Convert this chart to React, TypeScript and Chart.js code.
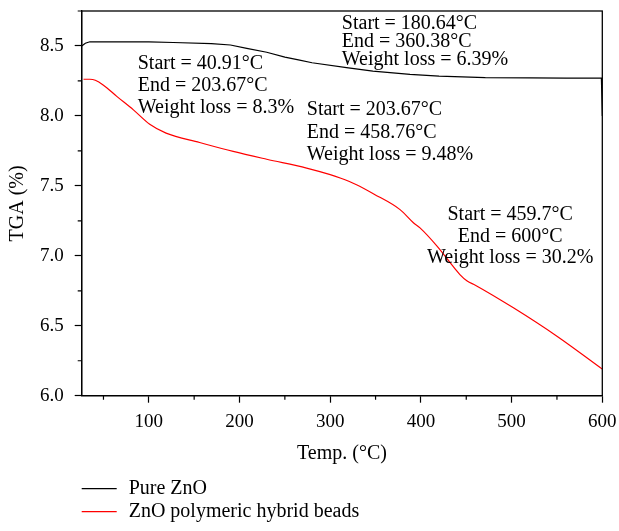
import React, { useEffect, useRef } from "react";
import { Chart, registerables } from "chart.js";

Chart.register(...registerables);

// ---- Data ----
const pureTemp = [26, 30, 35, 60, 100, 127, 169, 190, 208, 230, 250, 265, 280, 318, 347, 388, 420, 471, 520, 560, 599, 600];
const pureTga = [8.5, 8.52, 8.53, 8.53, 8.53, 8.525, 8.517, 8.507, 8.483, 8.455, 8.42, 8.4, 8.38, 8.345, 8.32, 8.297, 8.285, 8.274, 8.272, 8.27, 8.27, 8.0];

const beadsTemp = [28, 35, 41, 50, 65, 83, 101, 119, 156, 193, 230, 274, 300, 311, 329, 348, 377, 392, 399, 418, 443, 451, 460, 502, 550, 600];
const beadsTga = [8.262, 8.262, 8.255, 8.22, 8.138, 8.043, 7.94, 7.877, 7.81, 7.746, 7.69, 7.627, 7.58, 7.556, 7.508, 7.442, 7.33, 7.235, 7.2, 7.068, 6.866, 6.82, 6.79, 6.628, 6.425, 6.19];

const seriesLabels = ["Pure ZnO", "ZnO polymeric hybrid beads"];
const seriesColors = ["#000000", "#ff0000"];

const xMajorTicks = [100, 200, 300, 400, 500, 600];
const xMinorTicks = [50, 150, 250, 350, 450, 550];
const yMajorTicks = [6.0, 6.5, 7.0, 7.5, 8.0, 8.5];
const yMinorTicks = [6.25, 6.75, 7.25, 7.75, 8.25, 8.75];

const xTitle = "Temp. (°C)";
const yTitle = "TGA (%)";

const annotationTexts = [
  ["Start = 40.91°C", "End = 203.67°C", "Weight loss = 8.3%"],
  ["Start = 180.64°C", "End = 360.38°C", "Weight loss = 6.39%"],
  ["Start = 203.67°C", "End = 458.76°C", "Weight loss = 9.48%"],
  ["Start = 459.7°C", "End = 600°C", "Weight loss = 30.2%"],
];
// anchor of first line (data coords) + layout
const annotationAnchors = [
  { x: 87.8, y: 8.372, align: "left", gap: 22 },
  { x: 312.8, y: 8.662, align: "left", gap: 18 },
  { x: 274.2, y: 8.043, align: "left", gap: 22.5 },
  { x: 498.4, y: 7.294, align: "center", gap: 21.7 },
];

const FONT = "'Liberation Serif', 'Times New Roman', serif";

const framePlugin = {
  id: "frameAndMinor",
  afterDraw(chart: any) {
    const { ctx, chartArea, scales } = chart;
    ctx.save();
    ctx.strokeStyle = "#000";
    ctx.lineWidth = 1.3;
    ctx.strokeRect(chartArea.left, chartArea.top, chartArea.right - chartArea.left, chartArea.bottom - chartArea.top);
    ctx.lineWidth = 1.2;
    ctx.beginPath();
    xMinorTicks.forEach((v) => {
      const px = scales.x.getPixelForValue(v);
      ctx.moveTo(px, chartArea.bottom);
      ctx.lineTo(px, chartArea.bottom + 4);
    });
    yMinorTicks.forEach((v) => {
      const py = scales.y.getPixelForValue(v);
      ctx.moveTo(chartArea.left, py);
      ctx.lineTo(chartArea.left - 4, py);
    });
    ctx.stroke();
    ctx.restore();
  },
};

const annotationPlugin = {
  id: "annotTexts",
  afterDatasetsDraw(chart: any) {
    const { ctx, scales } = chart;
    ctx.save();
    ctx.fillStyle = "#000";
    ctx.font = `20px ${FONT}`;
    ctx.textBaseline = "middle";
    annotationTexts.forEach((lines, i) => {
      const a = annotationAnchors[i];
      const px = scales.x.getPixelForValue(a.x);
      const py = scales.y.getPixelForValue(a.y);
      ctx.textAlign = a.align;
      lines.forEach((t, j) => ctx.fillText(t, px, py + j * a.gap));
    });
    ctx.restore();
  },
};

const legendPlugin = {
  id: "stackedLegend",
  afterDraw(chart: any) {
    const { ctx } = chart;
    const left = chart.chartArea.left;
    const y0 = chart.chartArea.bottom + 93;
    ctx.save();
    ctx.font = `20px ${FONT}`;
    ctx.textBaseline = "middle";
    ctx.textAlign = "left";
    chart.data.datasets.forEach((ds: any, i: number) => {
      const y = y0 + i * 23;
      ctx.strokeStyle = ds.borderColor;
      ctx.lineWidth = 1.2;
      ctx.beginPath();
      ctx.moveTo(left, y);
      ctx.lineTo(left + 35, y);
      ctx.stroke();
      ctx.fillStyle = "#000";
      ctx.fillText(ds.label, left + 47, y);
    });
    ctx.restore();
  },
};

export default function App() {
  const ref = useRef<HTMLCanvasElement>(null);
  useEffect(() => {
    if (!ref.current) return;
    const chart = new Chart(ref.current, {
      type: "line",
      data: {
        datasets: [
          {
            label: seriesLabels[0],
            data: pureTemp.map((x, i) => ({ x, y: pureTga[i] })),
            borderColor: seriesColors[0],
            borderWidth: 1.2,
            pointRadius: 0,
            tension: 0,
          },
          {
            label: seriesLabels[1],
            data: beadsTemp.map((x, i) => ({ x, y: beadsTga[i] })),
            borderColor: seriesColors[1],
            borderWidth: 1.2,
            pointRadius: 0,
            cubicInterpolationMode: "monotone",
          },
        ],
      },
      options: {
        animation: false,
        responsive: true,
        maintainAspectRatio: false,
        layout: { padding: { left: 0, right: 16.7, top: 11, bottom: 0 } },
        plugins: { legend: { display: false }, tooltip: { enabled: false } },
        scales: {
          x: {
            type: "linear",
            min: 26,
            max: 600,
            afterBuildTicks: (axis: any) => {
              axis.ticks = xMajorTicks.map((v) => ({ value: v }));
            },
            afterFit: (scale: any) => {
              scale.height = 135.3;
              scale.paddingLeft = 0;
              scale.paddingRight = 0;
            },
            border: { display: true, color: "#000", width: 1.3 },
            grid: { drawOnChartArea: false, drawTicks: true, tickLength: 7, tickColor: "#000", tickWidth: 1.2 },
            ticks: {
              color: "#000",
              font: { family: FONT, size: 19 },
              padding: 8,
              maxRotation: 0,
              callback: (v: any) => String(v),
            },
            title: {
              display: true,
              text: xTitle,
              color: "#000",
              font: { family: FONT, size: 20 },
              padding: { top: 0, bottom: 65 },
            },
          },
          y: {
            type: "linear",
            min: 6.0,
            max: 8.75,
            afterBuildTicks: (axis: any) => {
              axis.ticks = yMajorTicks.map((v) => ({ value: v }));
            },
            afterFit: (scale: any) => {
              scale.width = 81.7;
              scale.paddingTop = 0;
              scale.paddingBottom = 0;
            },
            border: { display: true, color: "#000", width: 1.3 },
            grid: { drawOnChartArea: false, drawTicks: true, tickLength: 7, tickColor: "#000", tickWidth: 1.2 },
            ticks: {
              color: "#000",
              font: { family: FONT, size: 19 },
              padding: 11,
              callback: (v: any) => Number(v).toFixed(1),
            },
            title: {
              display: true,
              text: yTitle,
              color: "#000",
              font: { family: FONT, size: 20 },
              padding: { top: 6, bottom: 0 },
            },
          },
        },
      },
      plugins: [framePlugin, annotationPlugin, legendPlugin],
    } as any);
    return () => chart.destroy();
  }, []);
  return (
    <div style={{ position: "fixed", left: 0, top: 0, width: 619, height: 531, background: "#fff" }}>
      <canvas ref={ref} />
    </div>
  );
}
